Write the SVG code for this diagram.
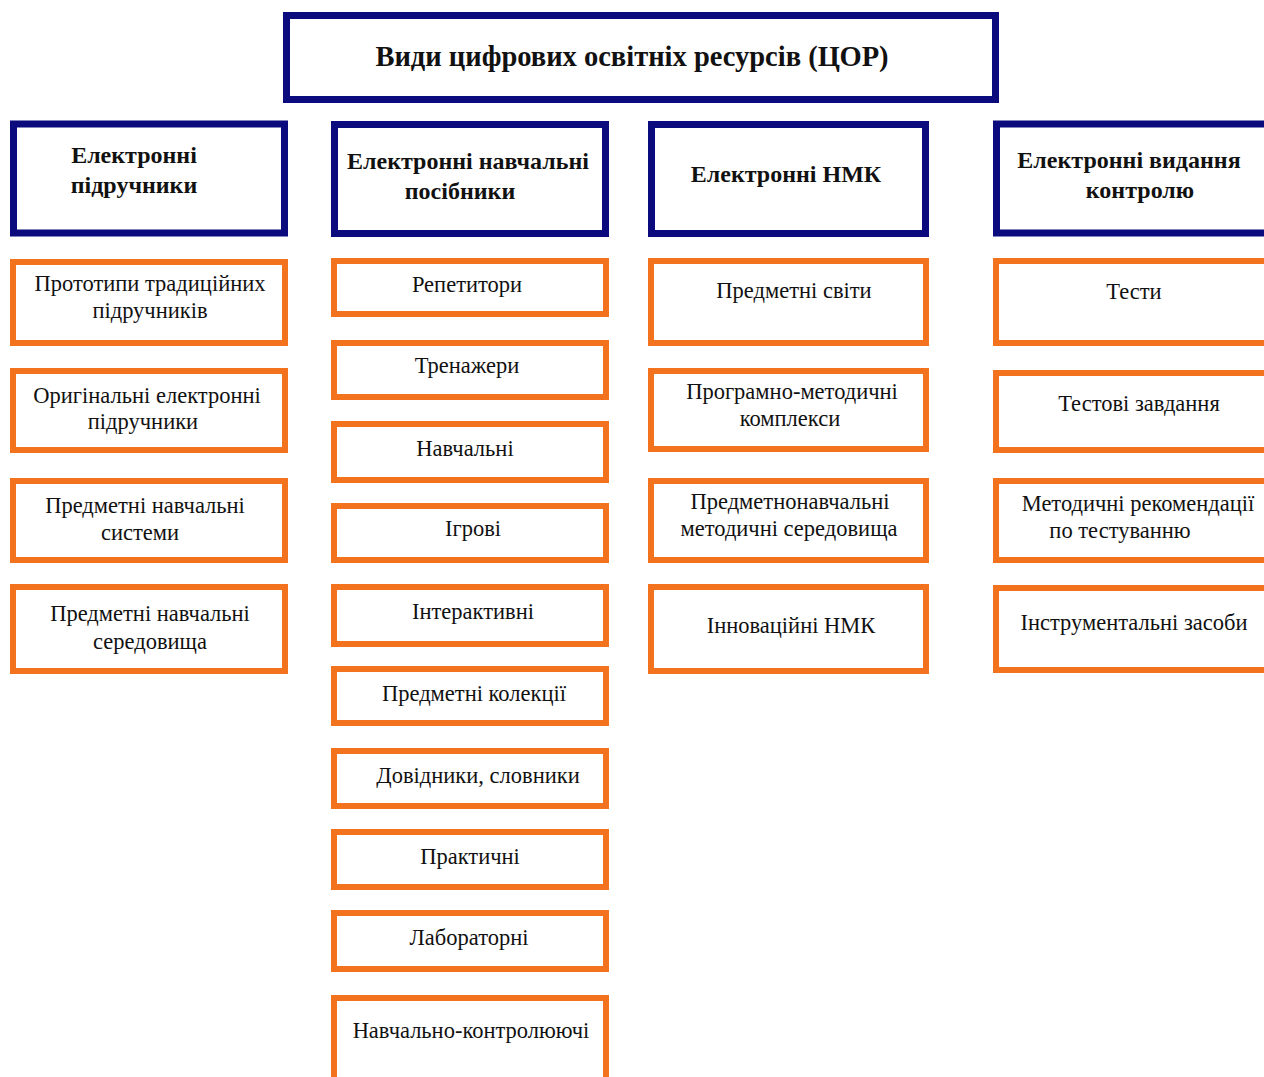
<svg xmlns="http://www.w3.org/2000/svg" width="1264" height="1077" viewBox="0 0 1264 1077">
  <style>
    .head { fill: #ffffff; stroke: #0b0b7d; stroke-width: 7; }
    .item { fill: #ffffff; stroke: #f2721e; stroke-width: 6; }
    text { font-family: "Liberation Serif", "Times New Roman", serif; fill: #111111; text-anchor: middle; }
    .t0 { font-size: 28.5px; font-weight: bold; }
    .t1 { font-size: 24px; font-weight: bold; }
    .t2 { font-size: 22.5px; }
  </style>
  <rect width="1264" height="1077" fill="#ffffff"/>

  <!-- Title -->
  <g id="title">
    <rect class="head" x="286.5" y="15.5" width="709" height="84"/>
    <text class="t0" x="632" y="66">Види цифрових освітніх ресурсів (ЦОР)</text>
  </g>

  <!-- Column 1: electronic textbooks -->
  <g id="col1-head">
    <rect class="head" x="13.5" y="124" width="271" height="109"/>
    <text class="t1" x="134" y="163">Електронні</text>
    <text class="t1" x="134" y="193">підручники</text>
  </g>
  <g id="col1-1">
    <rect class="item" x="13" y="262" width="272" height="81"/>
    <text class="t2" x="150" y="291">Прототипи традиційних</text>
    <text class="t2" x="150" y="318">підручників</text>
  </g>
  <g id="col1-2">
    <rect class="item" x="13" y="371" width="272" height="79"/>
    <text class="t2" x="147" y="403">Оригінальні електронні</text>
    <text class="t2" x="143" y="429">підручники</text>
  </g>
  <g id="col1-3">
    <rect class="item" x="13" y="481" width="272" height="79"/>
    <text class="t2" x="145" y="513">Предметні навчальні</text>
    <text class="t2" x="140" y="540">системи</text>
  </g>
  <g id="col1-4">
    <rect class="item" x="13" y="587" width="272" height="84"/>
    <text class="t2" x="150" y="621">Предметні навчальні</text>
    <text class="t2" x="150" y="649">середовища</text>
  </g>

  <!-- Column 2: electronic study guides -->
  <g id="col2-head">
    <rect class="head" x="334.5" y="124.5" width="271" height="109"/>
    <text class="t1" x="468" y="169">Електронні навчальні</text>
    <text class="t1" x="460" y="199">посібники</text>
  </g>
  <g id="col2-1">
    <rect class="item" x="334" y="261" width="272" height="53"/>
    <text class="t2" x="467" y="292">Репетитори</text>
  </g>
  <g id="col2-2">
    <rect class="item" x="334" y="343" width="272" height="54"/>
    <text class="t2" x="467" y="373">Тренажери</text>
  </g>
  <g id="col2-3">
    <rect class="item" x="334" y="424" width="272" height="56"/>
    <text class="t2" x="465" y="456">Навчальні</text>
  </g>
  <g id="col2-4">
    <rect class="item" x="334" y="506" width="272" height="54"/>
    <text class="t2" x="473" y="536">Ігрові</text>
  </g>
  <g id="col2-5">
    <rect class="item" x="334" y="587" width="272" height="57"/>
    <text class="t2" x="473" y="619">Інтерактивні</text>
  </g>
  <g id="col2-6">
    <rect class="item" x="334" y="669" width="272" height="54"/>
    <text class="t2" x="474" y="701">Предметні колекції</text>
  </g>
  <g id="col2-7">
    <rect class="item" x="334" y="751" width="272" height="55"/>
    <text class="t2" x="478" y="783">Довідники, словники</text>
  </g>
  <g id="col2-8">
    <rect class="item" x="334" y="832" width="272" height="55"/>
    <text class="t2" x="470" y="864">Практичні</text>
  </g>
  <g id="col2-9">
    <rect class="item" x="334" y="913" width="272" height="56"/>
    <text class="t2" x="469" y="945">Лабораторні</text>
  </g>
  <g id="col2-10">
    <rect class="item" x="334" y="998" width="272" height="100"/>
    <text class="t2" x="471" y="1038">Навчально-контролюючі</text>
  </g>

  <!-- Column 3: electronic teaching-methodical complexes -->
  <g id="col3-head">
    <rect class="head" x="651.5" y="124.5" width="274" height="109"/>
    <text class="t1" x="786" y="182">Електронні НМК</text>
  </g>
  <g id="col3-1">
    <rect class="item" x="651" y="261" width="275" height="82"/>
    <text class="t2" x="794" y="298">Предметні світи</text>
  </g>
  <g id="col3-2">
    <rect class="item" x="651" y="371" width="275" height="78"/>
    <text class="t2" x="792" y="399">Програмно-методичні</text>
    <text class="t2" x="790" y="426">комплекси</text>
  </g>
  <g id="col3-3">
    <rect class="item" x="651" y="481" width="275" height="79"/>
    <text class="t2" x="790" y="509">Предметнонавчальні</text>
    <text class="t2" x="789" y="536">методичні середовища</text>
  </g>
  <g id="col3-4">
    <rect class="item" x="651" y="587" width="275" height="84"/>
    <text class="t2" x="791" y="633">Інноваційні НМК</text>
  </g>

  <!-- Column 4: electronic assessment publications -->
  <g id="col4-head">
    <rect class="head" x="996.5" y="124" width="290" height="109"/>
    <text class="t1" x="1129" y="168">Електронні видання</text>
    <text class="t1" x="1140" y="198">контролю</text>
  </g>
  <g id="col4-1">
    <rect class="item" x="996" y="261" width="290" height="82"/>
    <text class="t2" x="1134" y="299">Тести</text>
  </g>
  <g id="col4-2">
    <rect class="item" x="996" y="373" width="290" height="77"/>
    <text class="t2" x="1139" y="411">Тестові завдання</text>
  </g>
  <g id="col4-3">
    <rect class="item" x="996" y="481" width="290" height="79"/>
    <text class="t2" x="1138" y="511">Методичні рекомендації</text>
    <text class="t2" x="1120" y="538">по тестуванню</text>
  </g>
  <g id="col4-4">
    <rect class="item" x="996" y="588" width="290" height="82"/>
    <text class="t2" x="1134" y="630">Інструментальні засоби</text>
  </g>
</svg>
